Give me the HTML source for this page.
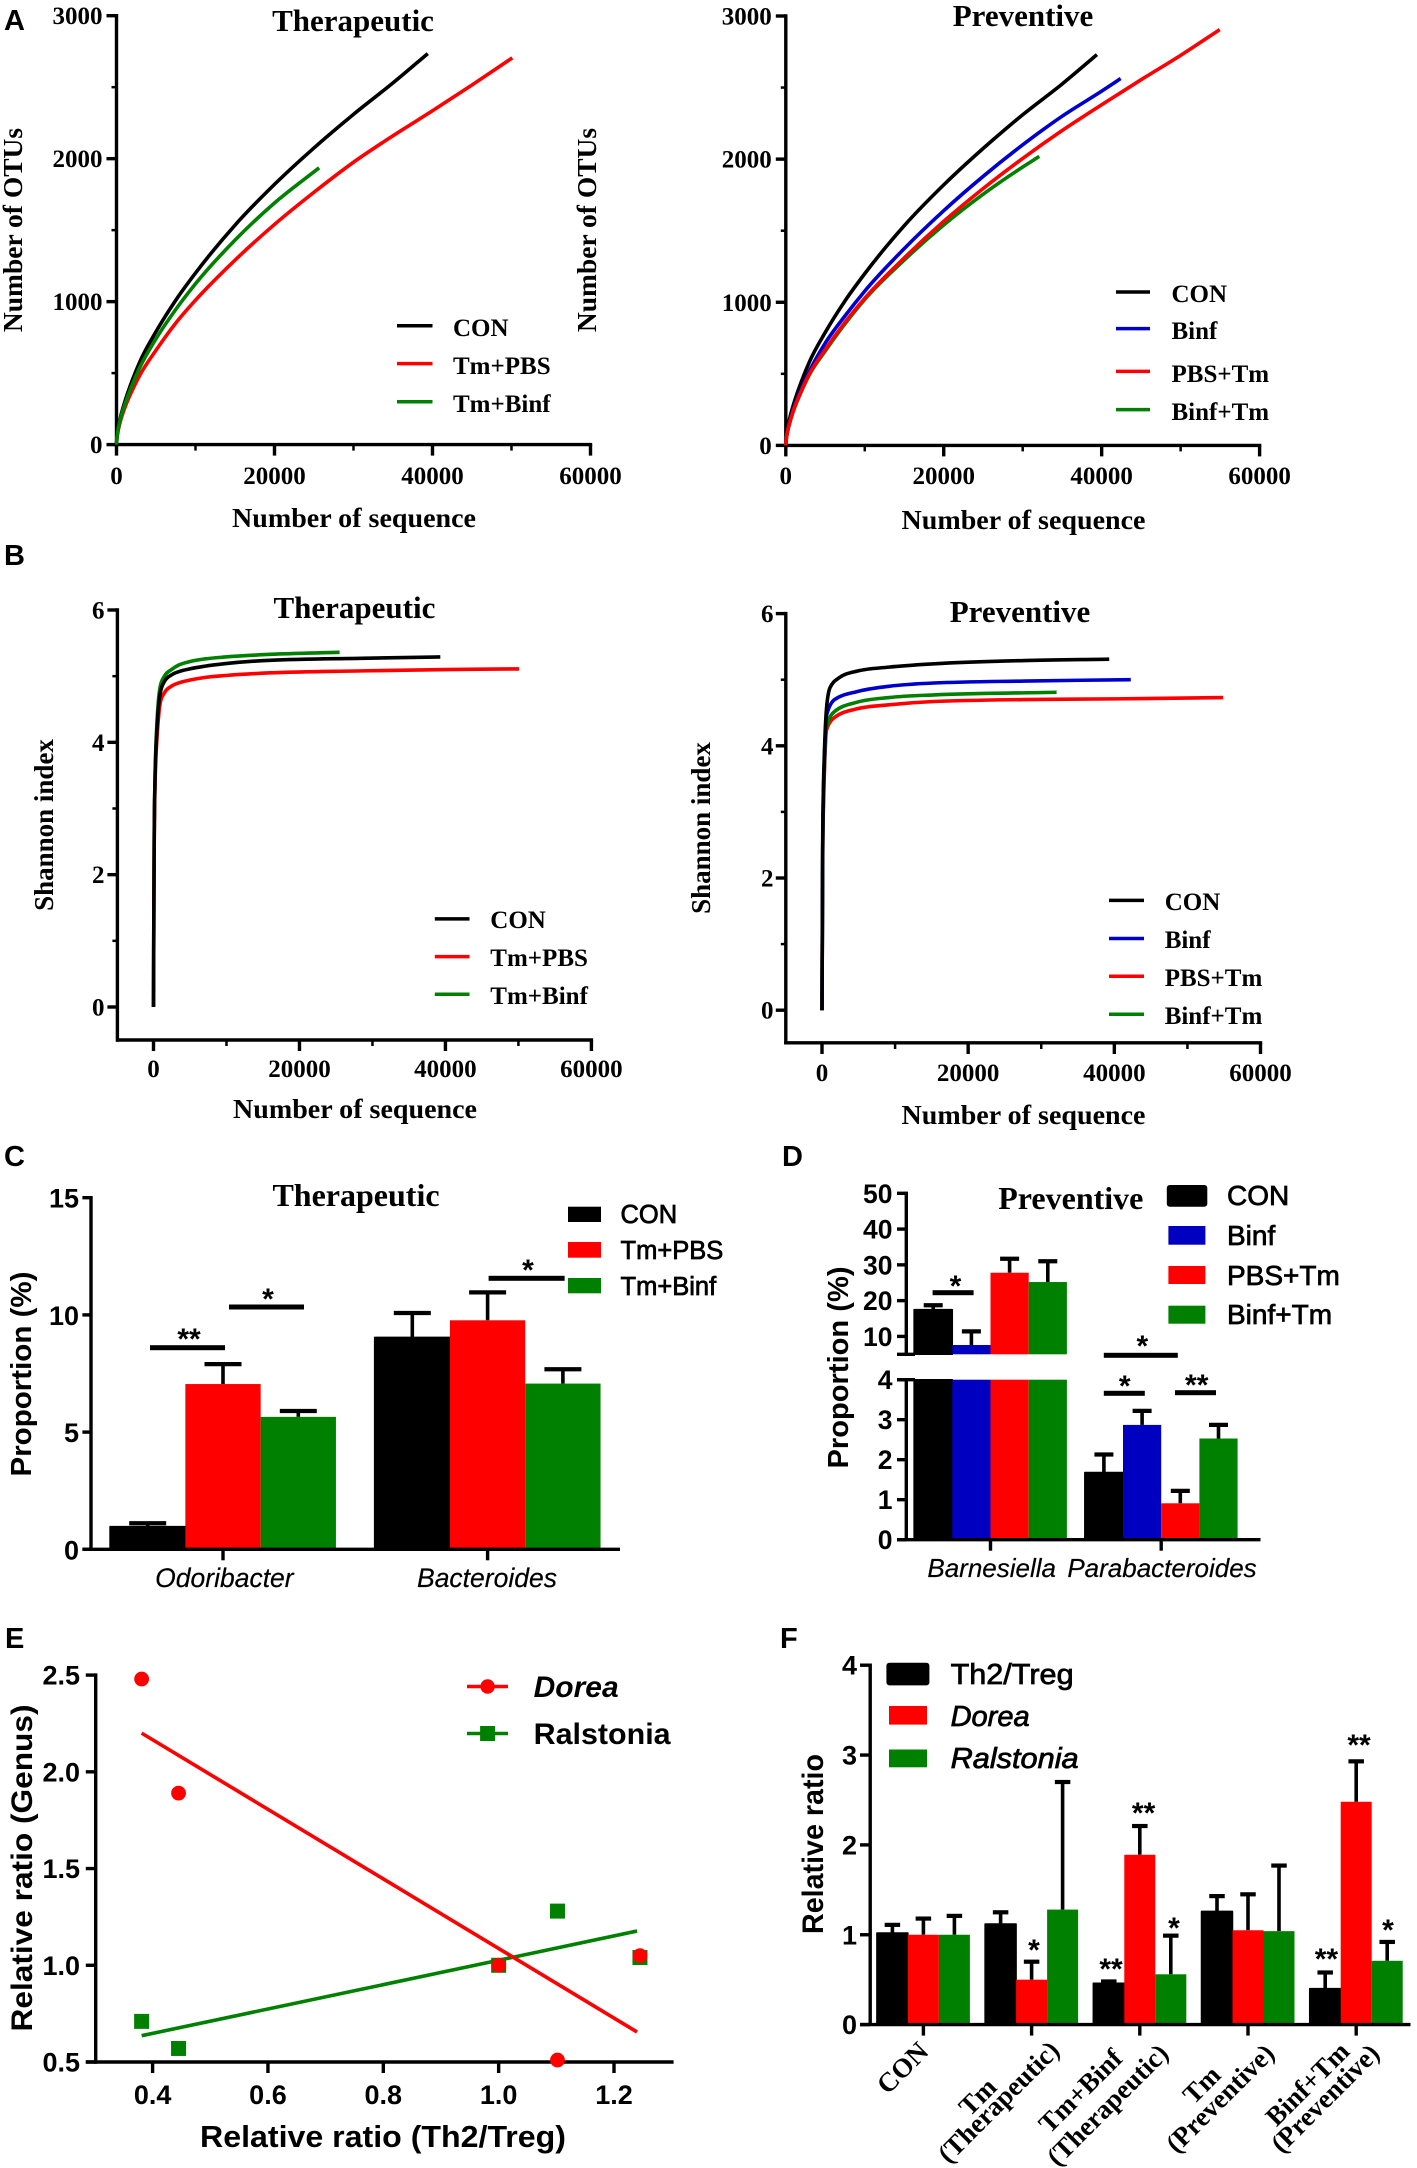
<!DOCTYPE html>
<html lang="en">
<head>
<meta charset="utf-8">
<title>Microbiota rarefaction, proportion and correlation figure</title>
<style>
html,body{margin:0;padding:0;background:#fff;}
svg{display:block;}
text{fill:#000;}
.t{font-family:"Liberation Serif",serif;font-weight:bold;}
.s{font-family:"Liberation Sans",sans-serif;font-weight:bold;}
.n{font-family:"Liberation Sans",sans-serif;font-weight:normal;stroke:#000;stroke-width:.75px;}
.i{font-family:"Liberation Sans",sans-serif;font-style:italic;stroke:#000;stroke-width:.2px;}
</style>
</head>
<body>
<svg id="fig" xmlns="http://www.w3.org/2000/svg" width="1417" height="2168" viewBox="0 0 1417 2168">
<rect x="0" y="0" width="1417" height="2168" fill="#fff"/>

<text class="s" font-size="29" x="4" y="30">A</text>
<text class="s" font-size="29" x="4" y="565">B</text>
<text class="s" font-size="29" x="4" y="1166">C</text>
<text class="s" font-size="29" x="782" y="1166">D</text>
<text class="s" font-size="29" x="5" y="1648">E</text>
<text class="s" font-size="29" x="780" y="1648">F</text>

<!-- Panel A -->
<text class="t" font-size="31" text-anchor="middle" x="353" y="31">Therapeutic</text>
<text class="t" font-size="27.5" text-anchor="middle" transform="translate(22,230) rotate(-90)">Number of OTUs</text>
<text class="t" font-size="27.5" text-anchor="middle" textLength="244" lengthAdjust="spacingAndGlyphs" x="354" y="527">Number of sequence</text>
<text class="t" font-size="31" text-anchor="middle" x="1023" y="26">Preventive</text>
<text class="t" font-size="27.5" text-anchor="middle" transform="translate(596,230) rotate(-90)">Number of OTUs</text>
<text class="t" font-size="27.5" text-anchor="middle" textLength="244" lengthAdjust="spacingAndGlyphs" x="1023.5" y="529">Number of sequence</text>

<g>
<line x1="397" x2="432.5" y1="325.7" y2="325.7" stroke="#000" stroke-width="3.5"/>
<text class="t" font-size="25" x="453" y="336">CON</text>
<line x1="397" x2="432.5" y1="363.6" y2="363.6" stroke="#f00" stroke-width="3.5"/>
<text class="t" font-size="25" x="453" y="374">Tm+PBS</text>
<line x1="397" x2="432.5" y1="401.8" y2="401.8" stroke="#008000" stroke-width="3.5"/>
<text class="t" font-size="25" x="453" y="412">Tm+Binf</text>
</g>
<g>
<line x1="1116" x2="1150" y1="292" y2="292" stroke="#000" stroke-width="3.5"/>
<text class="t" font-size="25" x="1171.5" y="302">CON</text>
<line x1="1116" x2="1150" y1="328.6" y2="328.6" stroke="#0000cc" stroke-width="3.5"/>
<text class="t" font-size="25" x="1171.5" y="339">Binf</text>
<line x1="1116" x2="1150" y1="371.4" y2="371.4" stroke="#f00" stroke-width="3.5"/>
<text class="t" font-size="25" x="1171.5" y="382">PBS+Tm</text>
<line x1="1116" x2="1150" y1="409.6" y2="409.6" stroke="#008000" stroke-width="3.5"/>
<text class="t" font-size="25" x="1171.5" y="420">Binf+Tm</text>
</g>

<!-- Panel B -->
<text class="t" font-size="31" text-anchor="middle" x="354.4" y="618">Therapeutic</text>
<text class="t" font-size="27" text-anchor="middle" transform="translate(53,825) rotate(-90)">Shannon index</text>
<text class="t" font-size="27.5" text-anchor="middle" textLength="244" lengthAdjust="spacingAndGlyphs" x="355" y="1118">Number of sequence</text>
<text class="t" font-size="31" text-anchor="middle" x="1020" y="622">Preventive</text>
<text class="t" font-size="27" text-anchor="middle" transform="translate(710,828) rotate(-90)">Shannon index</text>
<text class="t" font-size="27.5" text-anchor="middle" textLength="244" lengthAdjust="spacingAndGlyphs" x="1023.5" y="1124">Number of sequence</text>

<g>
<line x1="434.8" x2="469.5" y1="918.9" y2="918.9" stroke="#000" stroke-width="3.5"/>
<text class="t" font-size="25" x="490.3" y="928">CON</text>
<line x1="434.8" x2="469.5" y1="956.6" y2="956.6" stroke="#f00" stroke-width="3.5"/>
<text class="t" font-size="25" x="490.3" y="966">Tm+PBS</text>
<line x1="434.8" x2="469.5" y1="994.3" y2="994.3" stroke="#008000" stroke-width="3.5"/>
<text class="t" font-size="25" x="490.3" y="1004">Tm+Binf</text>
</g>
<g>
<line x1="1109" x2="1144" y1="900.4" y2="900.4" stroke="#000" stroke-width="3.5"/>
<text class="t" font-size="25" x="1164.7" y="910">CON</text>
<line x1="1109" x2="1144" y1="938.5" y2="938.5" stroke="#0000cc" stroke-width="3.5"/>
<text class="t" font-size="25" x="1164.7" y="948">Binf</text>
<line x1="1109" x2="1144" y1="976.2" y2="976.2" stroke="#f00" stroke-width="3.5"/>
<text class="t" font-size="25" x="1164.7" y="986">PBS+Tm</text>
<line x1="1109" x2="1144" y1="1014.3" y2="1014.3" stroke="#008000" stroke-width="3.5"/>
<text class="t" font-size="25" x="1164.7" y="1024">Binf+Tm</text>
</g>

<!-- Panel C -->
<text class="t" font-size="32" text-anchor="middle" x="356" y="1206">Therapeutic</text>
<text class="s" font-size="29" text-anchor="middle" textLength="205" lengthAdjust="spacingAndGlyphs" transform="translate(31,1374) rotate(-90)">Proportion (%)</text>
<text class="i" font-size="26.5" text-anchor="middle" x="224.4" y="1587">Odoribacter</text>
<text class="i" font-size="26.5" text-anchor="middle" x="487" y="1587">Bacteroides</text>
<g>
<rect x="568" y="1206.7" width="33" height="15.3" fill="#000"/>
<text class="n" font-size="25.5" x="620.5" y="1223">CON</text>
<rect x="568" y="1242" width="33" height="15.7" fill="#f00"/>
<text class="n" font-size="25.5" x="620.5" y="1259">Tm+PBS</text>
<rect x="568" y="1278" width="33" height="15.3" fill="#008000"/>
<text class="n" font-size="25.5" x="620.5" y="1295">Tm+Binf</text>
</g>
<g>
<rect x="150" y="1345.2" width="75" height="5" fill="#000"/>
<text class="s" font-size="30" text-anchor="middle" x="189" y="1349">**</text>
<rect x="229" y="1304.5" width="75" height="5" fill="#000"/>
<text class="s" font-size="30" text-anchor="middle" x="268" y="1309">*</text>
<rect x="488.6" y="1275.8" width="76" height="5" fill="#000"/>
<text class="s" font-size="30" text-anchor="middle" x="528" y="1280">*</text>
</g>

<!-- Panel D -->
<text class="t" font-size="32" text-anchor="middle" x="1070.8" y="1209">Preventive</text>
<text class="s" font-size="29" text-anchor="middle" textLength="202" lengthAdjust="spacingAndGlyphs" transform="translate(848,1367.5) rotate(-90)">Proportion (%)</text>
<text class="i" font-size="26" text-anchor="middle" x="991.7" y="1577">Barnesiella</text>
<text class="i" font-size="26" text-anchor="middle" x="1162" y="1577">Parabacteroides</text>
<g>
<rect x="1166.8" y="1185" width="40.5" height="21.7" rx="3" fill="#000"/>
<text class="n" font-size="28" x="1227" y="1205">CON</text>
<rect x="1168.4" y="1226" width="37" height="18.7" fill="#0000c0"/>
<text class="n" font-size="28" x="1227" y="1245">Binf</text>
<rect x="1168.4" y="1266" width="37" height="18" fill="#f00"/>
<text class="n" font-size="28" x="1227" y="1285">PBS+Tm</text>
<rect x="1168.4" y="1305.7" width="37" height="18" fill="#008000"/>
<text class="n" font-size="28" x="1227" y="1324">Binf+Tm</text>
</g>
<g>
<rect x="932.6" y="1290.2" width="41" height="5" fill="#000"/>
<text class="s" font-size="30" text-anchor="middle" x="955.5" y="1296">*</text>
<rect x="1103.8" y="1352.8" width="74" height="5" fill="#000"/>
<text class="s" font-size="30" text-anchor="middle" x="1142.4" y="1356">*</text>
<rect x="1103.8" y="1390.8" width="41" height="5" fill="#000"/>
<text class="s" font-size="30" text-anchor="middle" x="1124.7" y="1396">*</text>
<rect x="1175" y="1390.2" width="41" height="5" fill="#000"/>
<text class="s" font-size="30" text-anchor="middle" x="1196.7" y="1395">**</text>
</g>

<!-- Panel E -->
<text class="s" font-size="30" text-anchor="middle" textLength="327" lengthAdjust="spacingAndGlyphs" transform="translate(32,1868) rotate(-90)">Relative ratio (Genus)</text>
<text class="s" font-size="31" text-anchor="middle" textLength="366" lengthAdjust="spacingAndGlyphs" x="383" y="2147">Relative ratio (Th2/Treg)</text>
<g>
<line x1="467" x2="508" y1="1686.5" y2="1686.5" stroke="#f00" stroke-width="3.5"/>
<circle cx="487.6" cy="1686.5" r="7.2" fill="#f00"/>
<text class="s" font-style="italic" font-size="30" x="533.6" y="1697">Dorea</text>
<line x1="467" x2="508" y1="1733.5" y2="1733.5" stroke="#008000" stroke-width="3.5"/>
<rect x="480.1" y="1726" width="15" height="15" fill="#008000"/>
<text class="s" font-size="30" textLength="137" lengthAdjust="spacingAndGlyphs" x="533.6" y="1744">Ralstonia</text>
</g>

<!-- Panel F -->
<text class="s" font-size="30" text-anchor="middle" textLength="180" lengthAdjust="spacingAndGlyphs" transform="translate(823,1844) rotate(-90)">Relative ratio</text>
<g>
<rect x="886.4" y="1662.7" width="43" height="22.7" rx="3" fill="#000"/>
<text class="n" font-size="29" textLength="123" lengthAdjust="spacingAndGlyphs" x="950.6" y="1684">Th2/Treg</text>
<rect x="889" y="1706" width="38" height="18.6" fill="#f00"/>
<text class="n" font-style="italic" font-size="29" x="950.6" y="1726">Dorea</text>
<rect x="889" y="1749.5" width="38" height="17.8" fill="#008000"/>
<text class="n" font-style="italic" font-size="29" textLength="128" lengthAdjust="spacingAndGlyphs" x="950.6" y="1768">Ralstonia</text>
</g>
<g>
<text class="s" font-size="30" text-anchor="middle" x="1034" y="1960">*</text>
<text class="s" font-size="30" text-anchor="middle" x="1111" y="1979">**</text>
<text class="s" font-size="30" text-anchor="middle" x="1143.6" y="1823">**</text>
<text class="s" font-size="30" text-anchor="middle" x="1174" y="1938">*</text>
<text class="s" font-size="30" text-anchor="middle" x="1326.4" y="1969">**</text>
<text class="s" font-size="30" text-anchor="middle" x="1359" y="1755">**</text>
<text class="s" font-size="30" text-anchor="middle" x="1388" y="1940">*</text>
</g>
<g class="t" font-size="27">
<text text-anchor="end" transform="translate(930,2053) rotate(-45)">CON</text>
<text text-anchor="middle" transform="translate(984,2103) rotate(-45)">Tm</text>
<text text-anchor="end" transform="translate(1061,2052) rotate(-45)">(Therapeutic)</text>
<text text-anchor="end" transform="translate(1124,2060) rotate(-45)">Tm+Binf</text>
<text text-anchor="end" transform="translate(1170,2055) rotate(-45)">(Therapeutic)</text>
<text text-anchor="middle" transform="translate(1208,2091) rotate(-45)">Tm</text>
<text text-anchor="end" transform="translate(1276,2055) rotate(-45)">(Preventive)</text>
<text text-anchor="end" transform="translate(1351,2053) rotate(-45)">Binf+Tm</text>
<text text-anchor="end" transform="translate(1381,2055) rotate(-45)">(Preventive)</text>
</g>
<g id="marks"></g>
</svg>

<script>
// ---------- Panel A data ----------
const seqTicks = [0, 20000, 40000, 60000];
const seqMinorTicks = [10000, 30000, 50000];
const otuTicks = [0, 1000, 2000, 3000];
const otuMinorTicks = [500, 1500, 2500];

const a1ConX = [0, 50, 100, 250, 500, 1000, 2000, 3000, 5000, 7500, 10000, 15000, 20000, 25000, 30000, 35000, 39400];
const a1ConY = [0, 45, 72, 125, 190, 290, 450, 585, 790, 1010, 1200, 1535, 1820, 2075, 2310, 2530, 2735];
const a1PbsX = [0, 50, 100, 250, 500, 1000, 2000, 3000, 5000, 7500, 10000, 15000, 20000, 25000, 30000, 35000, 40000, 45000, 50100];
const a1PbsY = [0, 38, 60, 108, 165, 250, 380, 490, 660, 850, 1010, 1290, 1540, 1765, 1975, 2160, 2335, 2515, 2705];
const a1BinfX = [0, 50, 100, 250, 500, 1000, 2000, 3000, 5000, 7500, 10000, 15000, 20000, 25650];
const a1BinfY = [0, 42, 68, 120, 180, 272, 420, 545, 740, 945, 1125, 1430, 1690, 1936];

const a2ConX = [0, 50, 100, 250, 500, 1000, 2000, 3000, 5000, 7500, 10000, 15000, 20000, 25000, 30000, 35000, 39400];
const a2ConY = [0, 45, 72, 125, 190, 290, 450, 585, 790, 1010, 1200, 1535, 1820, 2075, 2310, 2525, 2730];
const a2BinfX = [0, 50, 100, 250, 500, 1000, 2000, 3000, 5000, 7500, 10000, 15000, 20000, 25000, 30000, 35000, 40000, 42400];
const a2BinfY = [0, 40, 65, 113, 170, 260, 400, 520, 715, 905, 1078, 1375, 1640, 1880, 2100, 2300, 2475, 2563];
const a2PbsX = [0, 50, 100, 250, 500, 1000, 2000, 3000, 5000, 7500, 10000, 15000, 20000, 25000, 30000, 35000, 40000, 45000, 50000, 54950];
const a2PbsY = [0, 36, 58, 105, 160, 250, 385, 500, 670, 860, 1028, 1310, 1565, 1795, 2005, 2200, 2380, 2555, 2725, 2905];
const a2GreenX = [0, 50, 100, 250, 500, 1000, 2000, 3000, 5000, 7500, 10000, 15000, 20000, 25000, 30000, 32100];
const a2GreenY = [0, 36, 57, 103, 157, 245, 380, 495, 660, 850, 1020, 1295, 1540, 1755, 1945, 2019];

// ---------- Panel B data ----------
const shannonTicks = [0, 2, 4, 6];
const shannonMinorTicks = [1, 3, 5];

const b1ConX = [0, 50, 100, 200, 300, 500, 930, 1500, 2470, 3500, 4950, 7000, 9900, 16000, 28500, 39300];
const b1ConY = [0, 1.5, 2.6, 3.4, 3.8, 4.25, 4.75, 4.92, 5.02, 5.07, 5.11, 5.15, 5.19, 5.24, 5.27, 5.29];
const b1PbsX = [0, 50, 100, 200, 300, 500, 930, 1500, 2470, 3500, 4950, 7000, 9900, 16000, 28500, 40000, 50100];
const b1PbsY = [0, 1.4, 2.5, 3.3, 3.7, 4.1, 4.6, 4.75, 4.85, 4.9, 4.94, 4.98, 5.01, 5.05, 5.08, 5.1, 5.11];
const b1BinfX = [0, 50, 100, 200, 300, 500, 930, 1500, 2470, 3500, 4950, 7000, 9900, 16000, 25500];
const b1BinfY = [0, 1.5, 2.6, 3.4, 3.85, 4.35, 4.85, 5.0, 5.1, 5.17, 5.22, 5.26, 5.29, 5.33, 5.36];

const b2ConX = [0, 50, 100, 200, 300, 620, 1100, 2350, 4800, 9150, 15300, 27700, 39300];
const b2ConY = [0, 1.5, 2.6, 3.4, 3.8, 4.57, 4.88, 5.03, 5.13, 5.19, 5.24, 5.29, 5.31];
const b2BinfX = [0, 50, 100, 200, 300, 620, 1730, 4800, 9150, 15300, 27700, 42250];
const b2BinfY = [0, 1.4, 2.5, 3.3, 3.7, 4.46, 4.7, 4.82, 4.9, 4.95, 4.98, 5.0];
const b2PbsX = [0, 50, 100, 200, 300, 620, 1730, 4800, 9150, 15300, 27700, 40000, 54900];
const b2PbsY = [0, 1.3, 2.4, 3.1, 3.5, 4.24, 4.43, 4.56, 4.62, 4.67, 4.7, 4.71, 4.73];
const b2GreenX = [0, 50, 100, 200, 300, 620, 1730, 4800, 9150, 15300, 32100];
const b2GreenY = [0, 1.3, 2.4, 3.2, 3.6, 4.29, 4.52, 4.66, 4.73, 4.77, 4.81];

// ---------- Panel C data ----------
const cCategories = ['Odoribacter', 'Bacteroides'];
const cTicks = [0, 5, 10, 15];
const cConMean = [0.97, 9.04];
const cConErr = [0.14, 1.04];
const cPbsMean = [7.05, 9.77];
const cPbsErr = [0.85, 1.19];
const cBinfMean = [5.65, 7.07];
const cBinfErr = [0.25, 0.61];

// ---------- Panel D data ----------
const dCategories = ['Barnesiella', 'Parabacteroides'];
const dUpperTicks = [10, 20, 30, 40, 50];
const dLowerTicks = [0, 1, 2, 3, 4];
const dConMean = [17.5, 1.68];
const dConErr = [1.2, 0.45];
const dBinfMean = [7.6, 2.87];
const dBinfErr = [3.8, 0.35];
const dPbsMean = [27.8, 0.91];
const dPbsErr = [3.9, 0.31];
const dGreenMean = [25.2, 2.53];
const dGreenErr = [5.8, 0.34];

// ---------- Panel E data ----------
const eXTicks = [0.4, 0.6, 0.8, 1.0, 1.2];
const eYTicks = [0.5, 1.0, 1.5, 2.0, 2.5];
const eTh2Treg = [0.381, 0.445, 1.0, 1.102, 1.245];
const eDorea = [2.48, 1.89, 1.0, 0.51, 1.05];
const eRalstonia = [0.71, 0.57, 1.0, 1.28, 1.04];
const eFitX = [0.381, 1.24];
const eDoreaFit = [2.2, 0.655];
const eRalstoniaFit = [0.636, 1.177];

// ---------- Panel F data ----------
const fGroups = ['CON', 'Tm (Therapeutic)', 'Tm+Binf (Therapeutic)', 'Tm (Preventive)', 'Binf+Tm (Preventive)'];
const fTicks = [0, 1, 2, 3, 4];
const fTh2Mean = [1.02, 1.12, 0.46, 1.26, 0.40];
const fTh2Err = [0.09, 0.13, 0.02, 0.17, 0.18];
const fDoreaMean = [1.0, 0.5, 1.89, 1.05, 2.48];
const fDoreaErr = [0.18, 0.2, 0.32, 0.4, 0.45];
const fRalstoniaMean = [1.0, 1.28, 0.56, 1.04, 0.71];
const fRalstoniaErr = [0.21, 1.42, 0.43, 0.73, 0.21];

// ---------- Colours ----------
const BLACK = '#000', RED = '#f00', GREEN = '#008000', BLUE = '#0000cc', BARBLUE = '#0000c0';
const AXIS_W = 3.4, CURVE_W = 3.6;

// ---------- Helpers ----------
const NS = 'http://www.w3.org/2000/svg';
const root = document.getElementById('marks');

function linear(d0, d1, r0, r1) {
  return function (v) { return r0 + (v - d0) / (d1 - d0) * (r1 - r0); };
}
function make(tag, props, name, parent) {
  const el = document.createElementNS(NS, tag);
  for (const k in props) el.setAttribute(k, props[k]);
  
  
  (parent || root).appendChild(el);
  return el;
}
function group(name) {
  return make('g', {}, name, root);
}
function segment(x1, y1, x2, y2, w, name, parent, color) {
  return make('line', { x1: x1, y1: y1, x2: x2, y2: y2, stroke: color || BLACK, 'stroke-width': w }, name, parent);
}
function label(txt, x, y, cls, size, anchor, name, parent) {
  const el = make('text', { x: x, y: y, 'class': cls, 'font-size': size, 'text-anchor': anchor }, name, parent);
  el.textContent = txt;
  return el;
}
function monotonePath(px, py) {
  const n = px.length, d = [], h = [], m = [];
  for (let i = 0; i < n - 1; i++) {
    h.push(px[i + 1] - px[i]);
    d.push((py[i + 1] - py[i]) / h[i]);
  }
  m.push(d[0]);
  for (let i = 1; i < n - 1; i++) {
    const p = (d[i - 1] * h[i] + d[i] * h[i - 1]) / (h[i - 1] + h[i]);
    const sign = (Math.sign(d[i - 1]) + Math.sign(d[i]));
    m.push(sign * Math.min(Math.abs(d[i - 1]), Math.abs(d[i]), 0.5 * Math.abs(p)));
  }
  m.push(d[n - 2]);
  let s = 'M' + px[0].toFixed(2) + ' ' + py[0].toFixed(2);
  for (let i = 0; i < n - 1; i++) {
    const t = h[i] / 3;
    s += 'C' + (px[i] + t).toFixed(2) + ' ' + (py[i] + m[i] * t).toFixed(2) + ' ' +
         (px[i + 1] - t).toFixed(2) + ' ' + (py[i + 1] - m[i + 1] * t).toFixed(2) + ' ' +
         px[i + 1].toFixed(2) + ' ' + py[i + 1].toFixed(2);
  }
  return s;
}
function curve(xs, ys, sx, sy, color, name, parent) {
  return make('path', {
    d: monotonePath(xs.map(sx), ys.map(sy)), fill: 'none', stroke: color,
    'stroke-width': CURVE_W, 'stroke-linejoin': 'round'
  }, name, parent);
}
function fmt(v) { return String(v); }

function rarefactionAxes(g, opt) {
  segment(opt.axisX, opt.sy(opt.yMax) - 1.7, opt.axisX, opt.axisY + 1.7, AXIS_W, 'y-axis-line', g);
  opt.yTicks.forEach(function (v) {
    segment(opt.axisX - 10, opt.sy(v), opt.axisX, opt.sy(v), AXIS_W, 'y-tick', g);
    label(fmt(v), opt.axisX - 14, opt.sy(v) + 8.5, 't', 25, 'end', 'y-tick-label', g);
  });
  opt.yMinor.forEach(function (v) {
    segment(opt.axisX - 5, opt.sy(v), opt.axisX, opt.sy(v), 2.5, 'y-minor-tick', g);
  });
  segment(opt.axisX - 1.7, opt.axisY, opt.sx(60000) + 1.7, opt.axisY, AXIS_W, 'x-axis-line', g);
  opt.xTicks.forEach(function (v) {
    segment(opt.sx(v), opt.axisY, opt.sx(v), opt.axisY + 11, AXIS_W, 'x-tick', g);
    label(fmt(v), opt.sx(v), opt.xLabelY, 't', 25, 'middle', 'x-tick-label', g);
  });
  opt.xMinor.forEach(function (v) {
    segment(opt.sx(v), opt.axisY, opt.sx(v), opt.axisY + 6, 2.5, 'x-minor-tick', g);
  });
}

function errorBar(cx, yBase, yTop, capW, name, parent) {
  segment(cx, yBase, cx, yTop, 3.6, name + '-stem', parent);
  segment(cx - capW / 2, yTop, cx + capW / 2, yTop, 4.2, name + '-cap', parent);
}
function barRect(x, yTop, w, yBottom, color, name, parent) {
  const props = { x: x, y: yTop, width: w, height: Math.max(0, yBottom - yTop), fill: color };
  if (color === BLACK) {
    props.stroke = BLACK;
    props['stroke-width'] = 1.5;
    props['stroke-linejoin'] = 'round';
  }
  return make('rect', props, name, parent);
}

// ---------- Panel A left ----------
(function () {
  const g = group('a-left-chart');
  const sx = linear(0, 60000, 116.5, 590.5), sy = linear(0, 3000, 444.6, 15.7);
  rarefactionAxes(g, { axisX: 116.5, axisY: 444.6, sx: sx, sy: sy, yMax: 3000, yTicks: otuTicks, yMinor: otuMinorTicks, xTicks: seqTicks, xMinor: seqMinorTicks, xLabelY: 484 });
  curve(a1PbsX, a1PbsY, sx, sy, RED, 'a-left-curve-tm-pbs', g);
  curve(a1ConX, a1ConY, sx, sy, BLACK, 'a-left-curve-con', g);
  curve(a1BinfX, a1BinfY, sx, sy, GREEN, 'a-left-curve-tm-binf', g);
})();

// ---------- Panel A right ----------
(function () {
  const g = group('a-right-chart');
  const sx = linear(0, 60000, 785.8, 1259.6), sy = linear(0, 3000, 445.4, 16);
  rarefactionAxes(g, { axisX: 785.8, axisY: 445.4, sx: sx, sy: sy, yMax: 3000, yTicks: otuTicks, yMinor: otuMinorTicks, xTicks: seqTicks, xMinor: seqMinorTicks, xLabelY: 484 });
  curve(a2ConX, a2ConY, sx, sy, BLACK, 'a-right-curve-con', g);
  curve(a2BinfX, a2BinfY, sx, sy, BLUE, 'a-right-curve-binf', g);
  curve(a2GreenX, a2GreenY, sx, sy, GREEN, 'a-right-curve-binf-tm', g);
  curve(a2PbsX, a2PbsY, sx, sy, RED, 'a-right-curve-pbs-tm', g);
})();

// ---------- Panel B left ----------
(function () {
  const g = group('b-left-chart');
  const sx = linear(0, 60000, 153.5, 591.4), sy = linear(0, 6, 1007, 610);
  segment(117.4, 608.3, 117.4, 1041.7, AXIS_W, 'y-axis-line', g);
  shannonTicks.forEach(function (v) {
    segment(107.4, sy(v), 117.4, sy(v), AXIS_W, 'y-tick', g);
    label(fmt(v), 104.5, sy(v) + 8.5, 't', 25, 'end', 'y-tick-label', g);
  });
  shannonMinorTicks.forEach(function (v) { segment(112.4, sy(v), 117.4, sy(v), 2.5, 'y-minor-tick', g); });
  segment(116, 1040, sx(60000) + 1.7, 1040, AXIS_W, 'x-axis-line', g);
  seqTicks.forEach(function (v) {
    segment(sx(v), 1040, sx(v), 1051, AXIS_W, 'x-tick', g);
    label(fmt(v), sx(v), 1077, 't', 25, 'middle', 'x-tick-label', g);
  });
  seqMinorTicks.forEach(function (v) { segment(sx(v), 1040, sx(v), 1046, 2.5, 'x-minor-tick', g); });
  curve(b1BinfX, b1BinfY, sx, sy, GREEN, 'b-left-curve-tm-binf', g);
  curve(b1PbsX, b1PbsY, sx, sy, RED, 'b-left-curve-tm-pbs', g);
  curve(b1ConX, b1ConY, sx, sy, BLACK, 'b-left-curve-con', g);
})();

// ---------- Panel B right ----------
(function () {
  const g = group('b-right-chart');
  const sx = linear(0, 60000, 822, 1260.5), sy = linear(0, 6, 1010.2, 613.6);
  segment(785.8, 611.9, 785.8, 1044.5, AXIS_W, 'y-axis-line', g);
  shannonTicks.forEach(function (v) {
    segment(775.8, sy(v), 785.8, sy(v), AXIS_W, 'y-tick', g);
    label(fmt(v), 773.5, sy(v) + 8.5, 't', 25, 'end', 'y-tick-label', g);
  });
  shannonMinorTicks.forEach(function (v) { segment(780.8, sy(v), 785.8, sy(v), 2.5, 'y-minor-tick', g); });
  segment(784.1, 1042.8, sx(60000) + 1.7, 1042.8, AXIS_W, 'x-axis-line', g);
  seqTicks.forEach(function (v) {
    segment(sx(v), 1042.8, sx(v), 1054, AXIS_W, 'x-tick', g);
    label(fmt(v), sx(v), 1081, 't', 25, 'middle', 'x-tick-label', g);
  });
  seqMinorTicks.forEach(function (v) { segment(sx(v), 1042.8, sx(v), 1049, 2.5, 'x-minor-tick', g); });
  curve(b2PbsX, b2PbsY, sx, sy, RED, 'b-right-curve-pbs-tm', g);
  curve(b2GreenX, b2GreenY, sx, sy, GREEN, 'b-right-curve-binf-tm', g);
  curve(b2BinfX, b2BinfY, sx, sy, BLUE, 'b-right-curve-binf', g);
  curve(b2ConX, b2ConY, sx, sy, BLACK, 'b-right-curve-con', g);
})();

// ---------- Panel C ----------
(function () {
  const g = group('c-chart');
  const sy = linear(0, 15, 1549.3, 1197.7);
  const barW = 75.3;
  const band = function (i) { return 223 + i * 264.6; };
  const series = [
    { name: 'con', mean: cConMean, err: cConErr, color: BLACK },
    { name: 'tm-pbs', mean: cPbsMean, err: cPbsErr, color: RED },
    { name: 'tm-binf', mean: cBinfMean, err: cBinfErr, color: GREEN }
  ];
  cCategories.forEach(function (cat, i) {
    series.forEach(function (s, j) {
      const left = band(i) + (j - 1.5) * barW;
      errorBar(left + barW / 2, sy(s.mean[i]), sy(s.mean[i] + s.err[i]), 37, 'c-error-' + s.name + '-' + cat.toLowerCase(), g);
      barRect(left, sy(s.mean[i]), barW, sy(0), s.color, 'c-bar-' + s.name + '-' + cat.toLowerCase(), g);
    });
    segment(band(i), sy(0), band(i), sy(0) + 11, 3.4, 'x-tick', g);
  });
  segment(91, 1196, 91, 1551, 3.4, 'y-axis-line', g);
  cTicks.forEach(function (v) {
    segment(82.4, sy(v), 91, sy(v), 3.4, 'y-tick', g);
    label(fmt(v), 79, sy(v) + 10, 's', 27, 'end', 'y-tick-label', g);
  });
  segment(82.4, sy(0), 620, sy(0), 3.4, 'x-axis-line', g);
})();

// ---------- Panel D ----------
(function () {
  const g = group('d-chart');
  const upper = linear(5, 50, 1354.3, 1193.3), lower = linear(0, 4, 1539.7, 1379.7);
  const barW = 38.2;
  const band = function (i) { return 990.5 + i * 170.7; };
  const series = [
    { name: 'con', mean: dConMean, err: dConErr, color: BLACK },
    { name: 'binf', mean: dBinfMean, err: dBinfErr, color: BARBLUE },
    { name: 'pbs-tm', mean: dPbsMean, err: dPbsErr, color: RED },
    { name: 'binf-tm', mean: dGreenMean, err: dGreenErr, color: GREEN }
  ];
  dCategories.forEach(function (cat, i) {
    series.forEach(function (s, j) {
      const left = band(i) + (j - 2) * barW;
      const v = s.mean[i], top = v + s.err[i];
      const key = s.name + '-' + cat.toLowerCase();
      if (v > 4) {
        errorBar(left + barW / 2, upper(v), upper(top), 19, 'd-error-' + key, g);
        barRect(left, upper(v), barW, upper(5), s.color, 'd-bar-upper-' + key, g);
        barRect(left, lower(4), barW, lower(0), s.color, 'd-bar-lower-' + key, g);
      } else {
        errorBar(left + barW / 2, lower(v), lower(top), 19, 'd-error-' + key, g);
        barRect(left, lower(v), barW, lower(0), s.color, 'd-bar-' + key, g);
      }
    });
    segment(band(i), lower(0), band(i), lower(0) + 11, 3.4, 'x-tick', g);
  });
  segment(906.3, upper(50) - 1.7, 906.3, upper(5) + 1.7, 3.4, 'y-axis-upper-line', g);
  segment(906.3, lower(4) - 1.7, 906.3, lower(0), 3.4, 'y-axis-lower-line', g);
  segment(897, upper(5), 915, upper(5), 3.4, 'y-axis-break-upper', g);
  segment(897, lower(4), 915, lower(4), 3.4, 'y-axis-break-lower', g);
  dUpperTicks.forEach(function (v) {
    segment(897, upper(v), 906.3, upper(v), 3.4, 'y-tick', g);
    label(fmt(v), 892.5, upper(v) + 9.5, 's', 26.5, 'end', 'y-tick-label', g);
  });
  dLowerTicks.forEach(function (v) {
    segment(897, lower(v), 906.3, lower(v), 3.4, 'y-tick', g);
    label(fmt(v), 892.5, lower(v) + 9.5, 's', 26.5, 'end', 'y-tick-label', g);
  });
  segment(897, lower(0), 1260.5, lower(0), 3.4, 'x-axis-line', g);
})();

// ---------- Panel E ----------
(function () {
  const g = group('e-chart');
  const sx = linear(0.4, 1.2, 152.6, 614), sy = linear(0.5, 2.5, 2062, 1675.1);
  segment(95.7, 1673.4, 95.7, 2063.7, 3.4, 'y-axis-line', g);
  eYTicks.forEach(function (v) {
    segment(85.8, sy(v), 95.7, sy(v), 3.4, 'y-tick', g);
    label(v.toFixed(1), 80, sy(v) + 9.5, 's', 27, 'end', 'y-tick-label', g);
  });
  segment(85.8, sy(0.5), 673.6, sy(0.5), 3.4, 'x-axis-line', g);
  eXTicks.forEach(function (v) {
    segment(sx(v), sy(0.5), sx(v), sy(0.5) + 11, 3.4, 'x-tick', g);
    label(v.toFixed(1), sx(v), 2104, 's', 27, 'middle', 'x-tick-label', g);
  });
  eTh2Treg.forEach(function (v, i) {
    make('rect', { x: sx(v) - 7.5, y: sy(eRalstonia[i]) - 7.5, width: 15, height: 15, fill: GREEN }, 'e-point-ralstonia', g);
  });
  segment(sx(eFitX[0]), sy(eRalstoniaFit[0]), sx(eFitX[1]), sy(eRalstoniaFit[1]), 3.6, 'e-fit-line-ralstonia', g, GREEN);
  segment(sx(eFitX[0]), sy(eDoreaFit[0]), sx(eFitX[1]), sy(eDoreaFit[1]), 3.6, 'e-fit-line-dorea', g, RED);
  eTh2Treg.forEach(function (v, i) {
    make('circle', { cx: sx(v), cy: sy(eDorea[i]), r: 7.4, fill: RED }, 'e-point-dorea', g);
  });
})();

// ---------- Panel F ----------
(function () {
  const g = group('f-chart');
  const sy = linear(0, 4, 2024.6, 1665.2);
  const barW = 31;
  const band = function (i) { return 923.4 + i * 108.2; };
  const series = [
    { name: 'th2-treg', mean: fTh2Mean, err: fTh2Err, color: BLACK },
    { name: 'dorea', mean: fDoreaMean, err: fDoreaErr, color: RED },
    { name: 'ralstonia', mean: fRalstoniaMean, err: fRalstoniaErr, color: GREEN }
  ];
  fGroups.forEach(function (grp, i) {
    series.forEach(function (s, j) {
      const left = band(i) + (j - 1.5) * barW;
      errorBar(left + barW / 2, sy(s.mean[i]), sy(s.mean[i] + s.err[i]), 15.5, 'f-error-' + s.name + '-group-' + (i + 1), g);
      barRect(left, sy(s.mean[i]), barW, sy(0), s.color, 'f-bar-' + s.name + '-group-' + (i + 1), g);
    });
    segment(band(i), sy(0), band(i), sy(0) + 11, 3.4, 'x-tick', g);
  });
  segment(870.2, 1663.5, 870.2, 2026, 3.4, 'y-axis-line', g);
  fTicks.forEach(function (v) {
    segment(860, sy(v), 870.2, sy(v), 3.4, 'y-tick', g);
    label(fmt(v), 857, sy(v) + 9.5, 's', 27, 'end', 'y-tick-label', g);
  });
  segment(860, sy(0), 1410.5, sy(0), 3.4, 'x-axis-line', g);
})();
</script>
</body>
</html>
